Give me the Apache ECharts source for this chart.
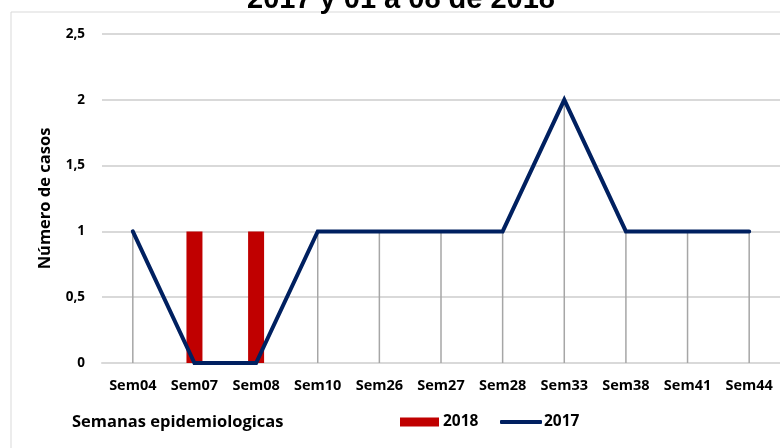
<!DOCTYPE html>
<html>
<head>
<meta charset="utf-8">
<script src="https://cdn.jsdelivr.net/npm/echarts@6/dist/echarts.min.js"></script>
<style>
  html, body { margin: 0; padding: 0; background: #fff; }
  #chart { width: 780px; height: 448px; }
</style>
</head>
<body>
<div id="chart"></div>
<script>
// semanas epidemiologicas
var semanas = ['Sem04', 'Sem07', 'Sem08', 'Sem10', 'Sem26', 'Sem27', 'Sem28', 'Sem33', 'Sem38', 'Sem41', 'Sem44']
// casos 2018 (barras)
var casos2018 = [null, 1, 1, null, null, null, null, null, null, null, null]
// casos 2017 (linea)
var casos2017 = [1, 0, 0, 1, 1, 1, 1, 2, 1, 1, 1]

var fuente = '"Open Sans", sans-serif'

var myChart = echarts.init(document.getElementById('chart'))
myChart.setOption({
  animation: false,
  textStyle: { fontFamily: fuente },
  title: {
    text: '2017 y 01 a 08 de 2018',
    left: 242,
    top: -20,
    textStyle: { fontFamily: '"Liberation Sans", Arial, sans-serif', fontSize: 29, fontWeight: 'bold', color: '#000' }
  },
  graphic: [
    {
      type: 'rect',
      shape: { x: 11, y: 12, width: 790, height: 450 },
      style: { fill: 'none', stroke: '#d9d9d9', lineWidth: 1 },
      z: -1
    },
    {
      type: 'text',
      left: 72,
      top: 414,
      style: { text: 'Semanas epidemiologicas', font: 'bold 16.5px ' + fuente, fill: '#000' }
    }
  ],
  legend: [
    {
      left: 395,
      top: 409,
      itemWidth: 39,
      itemHeight: 9,
      textStyle: { fontSize: 15.5, fontWeight: 'bold', color: '#000', fontFamily: fuente, padding: [0, 0, 0, -1] },
      data: [{ name: '2018', icon: 'rect' }]
    },
    {
      left: 495,
      top: 409,
      itemWidth: 42,
      itemHeight: 4,
      textStyle: { fontSize: 15.5, fontWeight: 'bold', color: '#000', fontFamily: fuente, padding: [0, 0, 0, -3] },
      data: [{ name: '2017', icon: 'roundRect' }]
    }
  ],
  grid: { left: 102, top: 34, width: 682, height: 329, containLabel: false },
  xAxis: [
    {
      type: 'category',
      data: semanas,
      boundaryGap: true,
      axisLine: { lineStyle: { color: '#d9d9d9', width: 2 } },
      axisTick: { show: false },
      axisLabel: { color: '#000', fontWeight: 'bold', fontSize: 14.5, margin: 15, fontFamily: fuente },
      splitLine: { show: false }
    },
    {
      type: 'category',
      data: semanas,
      show: false,
      position: 'bottom'
    }
  ],
  yAxis: {
    type: 'value',
    min: 0,
    max: 2.5,
    interval: 0.5,
    name: 'Número de casos',
    nameLocation: 'middle',
    nameGap: 48,
    nameRotate: 90,
    nameTextStyle: { fontWeight: 'bold', fontSize: 16.5, color: '#000', fontFamily: fuente },
    axisLine: { show: false },
    axisTick: { show: false },
    axisLabel: {
      color: '#000',
      fontWeight: 'bold',
      fontSize: 13.5,
      margin: 17,
      formatter: function (v) { return String(v).replace('.', ',') }
    },
    splitLine: { lineStyle: { color: '#d9d9d9', width: 2 } }
  },
  series: [
    {
      // lineas de proyeccion (gris) desde cada punto de 2017
      name: 'proyeccion',
      type: 'bar',
      xAxisIndex: 1,
      data: casos2017,
      barWidth: 1.5,
      itemStyle: { color: '#a6a6a6' },
      silent: true,
      z: 1
    },
    {
      name: '2018',
      type: 'bar',
      data: casos2018,
      barWidth: 16,
      itemStyle: { color: '#c00000' },
      z: 2
    },
    {
      name: '2017',
      type: 'line',
      data: casos2017,
      symbol: 'none',
      lineStyle: { color: '#002060', width: 4, cap: 'round', join: 'miter' },
      itemStyle: { color: '#002060' },
      z: 3
    }
  ]
})
</script>
</body>
</html>
